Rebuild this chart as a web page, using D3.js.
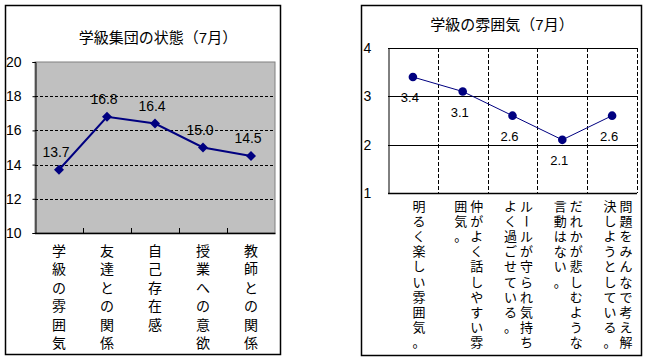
<!DOCTYPE html>
<html>
<head>
<meta charset="utf-8">
<script src="https://cdn.jsdelivr.net/npm/d3@7"></script>
<style>
  body { margin: 0; background: #fff; }
  svg text { font-family: "Liberation Sans", "Noto Sans CJK JP", sans-serif; fill: #000; }
</style>
</head>
<body>
<div id="chart"></div>
<script>
// left chart data
var stateTitle = "学級集団の状態（7月）";
var stateCats = ["学級の雰囲気", "友達との関係", "自己存在感", "授業への意欲", "教師との関係"];
var stateValues = [13.7, 16.8, 16.4, 15.0, 14.5];
var stateTicks = [10, 12, 14, 16, 18, 20];

// right chart data
var moodTitle = "学級の雰囲気（7月）";
var moodCats = ["明るく楽しい雰囲気。", "仲がよく話しやすい雰囲気。", "ルールが守られ気持ちよく過ごせている。",
    "だれかが悲しむような言動はない。", "問題をみんなで考え解決しようとしている。"];
var moodValues = [3.4, 3.1, 2.6, 2.1, 2.6];
var moodTicks = [1, 2, 3, 4];

var w = 648, h = 362;
var navy = "#000080";

var svg = d3.select("#chart")
    .append("svg")
    .attr("width", w)
    .attr("height", h);

// ---------- left chart ----------
var g1 = svg.append("g");

g1.append("rect")
    .attr("x", 5.5).attr("y", 5.5)
    .attr("width", 275).attr("height", 349)
    .attr("fill", "#fff").attr("stroke", "#000").attr("stroke-width", 1.5);

g1.append("text")
    .attr("x", 158).attr("y", 43)
    .attr("text-anchor", "middle")
    .style("font-size", "15px")
    .text(stateTitle);

var x1 = d3.scaleBand().domain(stateCats).range([35, 275]);
var y1 = d3.scaleLinear().domain([10, 20]).range([233, 62]);

g1.append("rect")
    .attr("x", 35).attr("y", 62)
    .attr("width", 240).attr("height", 171)
    .attr("fill", "#c0c0c0").attr("stroke", "#808080");

// dashed gridlines
g1.selectAll(".grid")
    .data(stateTicks.filter(function(d) { return d > 10 && d < 20; }))
    .enter().append("line")
    .attr("x1", 35).attr("x2", 275)
    .attr("y1", function(d) { return Math.round(y1(d)) + 0.5; })
    .attr("y2", function(d) { return Math.round(y1(d)) + 0.5; })
    .attr("stroke", "#000")
    .attr("stroke-dasharray", "3,2");

// y axis
var yAxis1 = d3.axisLeft(y1).tickValues(stateTicks).tickFormat(d3.format("d")).tickSize(3).tickPadding(11);
var ya1 = g1.append("g").attr("transform", "translate(35.5,0)").call(yAxis1);
ya1.select(".domain").attr("stroke", "#000");
ya1.selectAll("text").style("font-size", "14px");

// x axis line and inside ticks at boundaries
g1.append("line")
    .attr("x1", 35).attr("x2", 275.5)
    .attr("y1", 233.5).attr("y2", 233.5)
    .attr("stroke", "#000").attr("stroke-width", 1.5);

g1.selectAll(".xtick")
    .data(stateCats.slice(1))
    .enter().append("line")
    .attr("x1", function(d) { return Math.round(x1(d)) + 0.5; })
    .attr("x2", function(d) { return Math.round(x1(d)) + 0.5; })
    .attr("y1", 233).attr("y2", 228)
    .attr("stroke", "#000");

// category labels, one character per row
stateCats.forEach(function(c) {
    var cx = x1(c) + x1.bandwidth() / 2;
    c.split("").forEach(function(ch, i) {
        g1.append("text")
            .attr("x", cx)
            .attr("y", 256 + i * 18.4)
            .attr("text-anchor", "middle")
            .style("font-size", "14px")
            .text(ch);
    });
});

var line1 = d3.line()
    .x(function(d, i) { return x1(stateCats[i]) + x1.bandwidth() / 2; })
    .y(function(d) { return y1(d); });

g1.append("path")
    .datum(stateValues)
    .attr("d", line1)
    .attr("fill", "none")
    .attr("stroke", navy)
    .attr("stroke-width", 2);

g1.selectAll(".pt")
    .data(stateValues)
    .enter().append("path")
    .attr("d", d3.symbol(d3.symbolSquare, 50))
    .attr("transform", function(d, i) {
        return "translate(" + (x1(stateCats[i]) + x1.bandwidth() / 2) + "," + y1(d) + ") rotate(45)";
    })
    .attr("fill", navy);

g1.selectAll(".lbl")
    .data(stateValues)
    .enter().append("text")
    .attr("x", function(d, i) { return x1(stateCats[i]) + x1.bandwidth() / 2 - 3; })
    .attr("y", function(d) { return y1(d) - 13; })
    .attr("text-anchor", "middle")
    .style("font-size", "14px")
    .text(function(d) { return d.toFixed(1); });

// ---------- right chart ----------
var g2 = svg.append("g");

g2.append("rect")
    .attr("x", 361.5).attr("y", 5.5)
    .attr("width", 280).attr("height", 350)
    .attr("fill", "#fff").attr("stroke", "#000").attr("stroke-width", 1.5);

g2.append("text")
    .attr("x", 502).attr("y", 30)
    .attr("text-anchor", "middle")
    .style("font-size", "15px")
    .text(moodTitle);

var x2 = d3.scaleBand().domain(moodCats).range([388, 637]);
var y2 = d3.scaleLinear().domain([1, 4]).range([193, 48]);

// horizontal solid gridlines (incl. top)
g2.selectAll(".hgrid")
    .data(moodTicks.filter(function(d) { return d > 1; }))
    .enter().append("line")
    .attr("x1", 388).attr("x2", 637)
    .attr("y1", function(d) { return Math.round(y2(d)) + 0.5; })
    .attr("y2", function(d) { return Math.round(y2(d)) + 0.5; })
    .attr("stroke", "#000");

// vertical dashed lines at category boundaries and right edge
g2.selectAll(".vgrid")
    .data(moodCats)
    .enter().append("line")
    .attr("x1", function(d) { return Math.round(x2(d) + x2.bandwidth()) + 0.5; })
    .attr("x2", function(d) { return Math.round(x2(d) + x2.bandwidth()) + 0.5; })
    .attr("y1", 48).attr("y2", 193)
    .attr("stroke", "#000")
    .attr("stroke-dasharray", "4,2");

var yAxis2 = d3.axisLeft(y2).tickValues(moodTicks).tickFormat(d3.format("d")).tickSize(0).tickPadding(19);
var ya2 = g2.append("g").attr("transform", "translate(388.5,0)").call(yAxis2);
ya2.select(".domain").attr("stroke", "#000");
ya2.selectAll("text").style("font-size", "14px").attr("text-anchor", "start").attr("x", -25);

g2.append("line")
    .attr("x1", 388).attr("x2", 637)
    .attr("y1", 193.5).attr("y2", 193.5)
    .attr("stroke", "#000").attr("stroke-width", 1.5);

// category labels: vertical columns of 10 characters, right to left
moodCats.forEach(function(c) {
    var cx = x2(c) + x2.bandwidth() / 2 + 6;
    var chars = c.split("");
    var ncol = Math.ceil(chars.length / 10);
    chars.forEach(function(ch, k) {
        var col = Math.floor(k / 10), row = k % 10;
        var tx = cx + (ncol - 1) * 8 - col * 16;
        var ty = 206 + row * 15.2;
        var t = g2.append("text")
            .attr("text-anchor", "middle")
            .style("font-size", "13px")
            .text(ch);
        if (ch === "ー") {
            t.attr("transform", "translate(" + tx + "," + ty + ") rotate(90)").attr("y", 4.5);
        } else {
            t.attr("x", tx).attr("y", ty + 4.5);
        }
    });
});

var line2 = d3.line()
    .x(function(d, i) { return x2(moodCats[i]) + x2.bandwidth() / 2; })
    .y(function(d) { return y2(d); });

g2.append("path")
    .datum(moodValues)
    .attr("d", line2)
    .attr("fill", "none")
    .attr("stroke", navy)
    .attr("stroke-width", 1);

g2.selectAll(".pt")
    .data(moodValues)
    .enter().append("circle")
    .attr("cx", function(d, i) { return x2(moodCats[i]) + x2.bandwidth() / 2; })
    .attr("cy", function(d) { return y2(d); })
    .attr("r", 4.3)
    .attr("fill", navy);

g2.selectAll(".lbl")
    .data(moodValues)
    .enter().append("text")
    .attr("x", function(d, i) { return x2(moodCats[i]) + x2.bandwidth() / 2 - 3; })
    .attr("y", function(d) { return y2(d) + 25; })
    .attr("text-anchor", "middle")
    .style("font-size", "13px")
    .text(function(d) { return d.toFixed(1); });
</script>
</body>
</html>
